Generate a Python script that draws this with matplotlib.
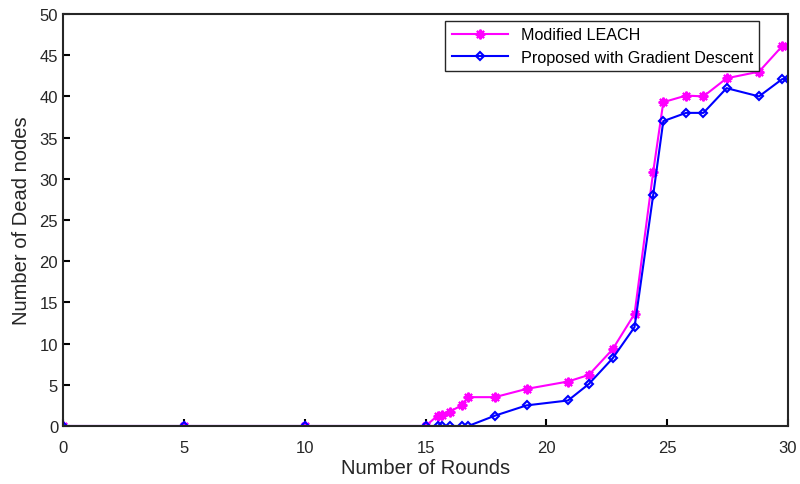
import matplotlib.pyplot as plt

plt.rcParams['font.family'] = ['Liberation Sans', 'DejaVu Sans']

# rounds (x) shared by both series
rounds = [0, 5, 10, 15, 15.5, 15.67, 16, 16.5, 16.77, 17.87, 19.18, 20.9, 21.76,
          22.74, 23.65, 24.42, 24.84, 25.78, 26.5, 27.46, 28.8, 29.76, 30]
leach = [0, 0, 0, 0, 1.25, 1.35, 1.75, 2.5, 3.5, 3.5, 4.5, 5.4, 6.2,
         9.3, 13.6, 30.8, 39.3, 40.1, 40.0, 42.2, 43.0, 46.1, 46.1]
proposed = [0, 0, 0, 0, 0, 0, 0, 0, 0, 1.25, 2.5, 3.1, 5.1,
            8.2, 12.0, 28.0, 37.0, 38.0, 38.0, 41.0, 40.0, 42.1, 42.1]

fig = plt.figure(figsize=(8, 4.85), dpi=100)
ax = fig.add_axes([63 / 800, 1 - 427 / 485, 725 / 800, 412 / 485])

ax.plot(rounds, leach, color='magenta', marker=(8, 2, 0), markersize=7,
        markeredgewidth=1.5, linewidth=1.5, label='Modified LEACH')
ax.plot(rounds, proposed, color='blue', marker='D', markersize=4.5, markerfacecolor='none',
        markeredgewidth=1.5, linewidth=1.5, label='Proposed with Gradient Descent')

ax.set_xlim(0, 30)
ax.set_ylim(0, 50)
ax.set_xticks(range(0, 31, 5))
ax.set_yticks(range(0, 51, 5))
ax.tick_params(direction='in', length=5, width=1.5, labelsize=12,
               labelcolor='#262626', top=False, right=False)
ax.tick_params(axis='x', pad=10)
for s in ax.spines.values():
    s.set_linewidth(1.5)
    s.set_color('#262626')

ax.set_xlabel('Number of Rounds', fontsize=14.5, color='#262626', labelpad=2)
ax.set_ylabel('Number of Dead nodes', fontsize=14.5, color='#262626', labelpad=6)

leg = ax.legend(loc='upper left', bbox_to_anchor=(0.527, 0.983), borderaxespad=0,
                fontsize=11.6, fancybox=False, edgecolor='#262626', framealpha=1,
                borderpad=0.4, handlelength=3.5, labelspacing=0.45)
leg.get_frame().set_linewidth(1.0)

fig.savefig('out.png', dpi=100)
